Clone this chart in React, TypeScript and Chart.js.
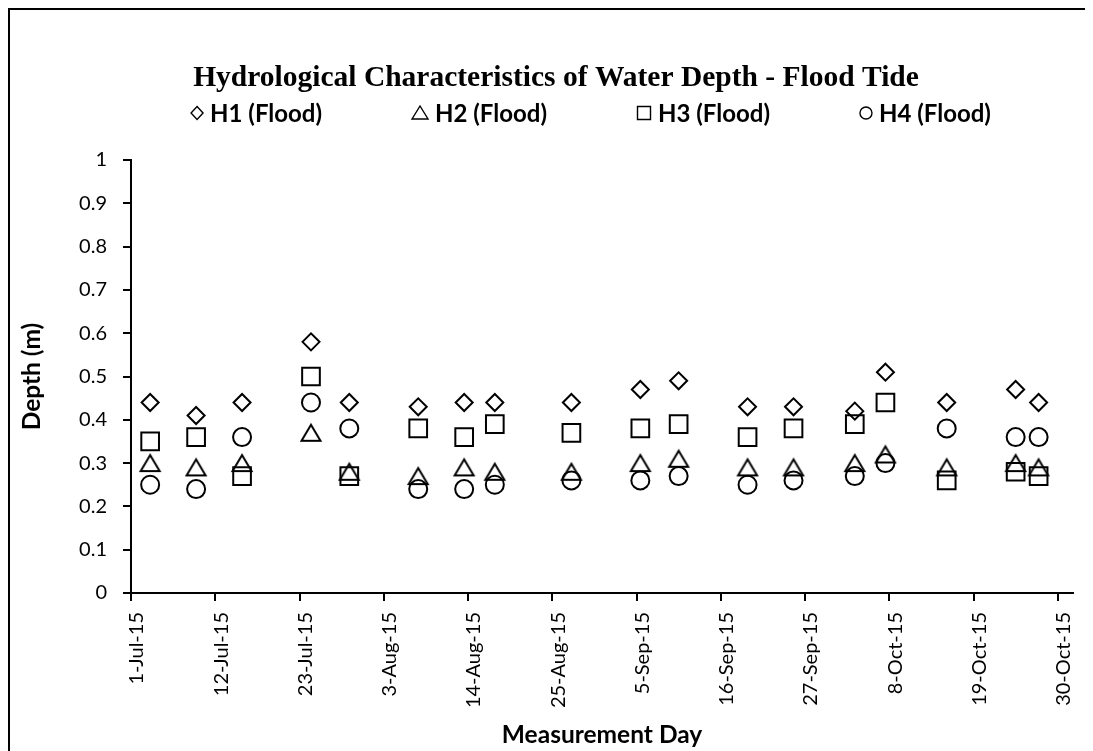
import React, { useEffect, useRef } from 'react';
import { Chart, registerables } from 'chart.js';

Chart.register(...registerables);

// ---------------- data ----------------
const chartTitle = 'Hydrological Characteristics of Water Depth - Flood Tide';
const xAxisTitle = 'Measurement Day';
const yAxisTitle = 'Depth (m)';

const seriesNames = ['H1 (Flood)', 'H2 (Flood)', 'H3 (Flood)', 'H4 (Flood)'];

const measurementDates = [
  '2015-07-03', '2015-07-09', '2015-07-15', '2015-07-24', '2015-07-29',
  '2015-08-07', '2015-08-13', '2015-08-17', '2015-08-27', '2015-09-05',
  '2015-09-10', '2015-09-19', '2015-09-25', '2015-10-03', '2015-10-07',
  '2015-10-15', '2015-10-24', '2015-10-27',
];

const h1Flood = [0.44, 0.41, 0.44, 0.58, 0.44, 0.43, 0.44, 0.44, 0.44, 0.47, 0.49, 0.43, 0.43, 0.42, 0.51, 0.44, 0.47, 0.44];
const h2Flood = [0.30, 0.29, 0.30, 0.37, 0.28, 0.27, 0.29, 0.28, 0.28, 0.30, 0.31, 0.29, 0.29, 0.30, 0.32, 0.29, 0.30, 0.29];
const h3Flood = [0.35, 0.36, 0.27, 0.50, 0.27, 0.38, 0.36, 0.39, 0.37, 0.38, 0.39, 0.36, 0.38, 0.39, 0.44, 0.26, 0.28, 0.27];
const h4Flood = [0.25, 0.24, 0.36, 0.44, 0.38, 0.24, 0.24, 0.25, 0.26, 0.26, 0.27, 0.25, 0.26, 0.27, 0.30, 0.38, 0.36, 0.36];

const xTickLabels = [
  '1-Jul-15', '12-Jul-15', '23-Jul-15', '3-Aug-15', '14-Aug-15', '25-Aug-15',
  '5-Sep-15', '16-Sep-15', '27-Sep-15', '8-Oct-15', '19-Oct-15', '30-Oct-15',
];
const xAxisStart = '2015-07-01';
const xAxisEnd = '2015-11-01';

const yMin = 0;
const yMax = 1;
const yStep = 0.1;

// ---------------- helpers ----------------
const DAY = 86400000;
const MONTHS: Record<string, number> = {
  Jan: 0, Feb: 1, Mar: 2, Apr: 3, May: 4, Jun: 5, Jul: 6, Aug: 7, Sep: 8, Oct: 9, Nov: 10, Dec: 11,
};
const isoToUtc = (s: string) => {
  const [y, m, d] = s.split('-').map(Number);
  return Date.UTC(y, m - 1, d);
};
const labelToUtc = (s: string) => {
  const [d, mon, yy] = s.split('-');
  return Date.UTC(2000 + Number(yy), MONTHS[mon], Number(d));
};
const originUtc = isoToUtc(xAxisStart);
const dayIndexIso = (s: string) => Math.round((isoToUtc(s) - originUtc) / DAY);
const dayIndexLabel = (s: string) => Math.round((labelToUtc(s) - originUtc) / DAY);

const xTickDays = xTickLabels.map(dayIndexLabel);
const xMaxDay = dayIndexIso(xAxisEnd);

// Excel date axis: each date occupies a one-day slot, markers sit in the slot centre.
const toPoints = (vals: number[]) =>
  measurementDates.map((d, i) => ({ x: dayIndexIso(d) + 0.5, y: vals[i] }));

function makeTriangle(): HTMLCanvasElement {
  const c = document.createElement('canvas');
  c.width = 30;
  c.height = 30;
  const g = c.getContext('2d')!;
  g.strokeStyle = '#000';
  g.lineWidth = 2;
  g.lineJoin = 'miter';
  g.beginPath();
  g.moveTo(15, 15 - 8);
  g.lineTo(15 + 9.5, 15 + 8);
  g.lineTo(15 - 9.5, 15 + 8);
  g.closePath();
  g.stroke();
  return c;
}

function drawLegendSymbol(ctx: CanvasRenderingContext2D, i: number, cx: number, cy: number) {
  ctx.save();
  ctx.strokeStyle = '#000';
  ctx.lineWidth = 1.4;
  ctx.beginPath();
  if (i === 0) {
    ctx.moveTo(cx, cy - 6.5);
    ctx.lineTo(cx + 6, cy);
    ctx.lineTo(cx, cy + 6.5);
    ctx.lineTo(cx - 6, cy);
    ctx.closePath();
  } else if (i === 1) {
    ctx.moveTo(cx, cy - 7);
    ctx.lineTo(cx + 8, cy + 6);
    ctx.lineTo(cx - 8, cy + 6);
    ctx.closePath();
  } else if (i === 2) {
    ctx.rect(cx - 6.5, cy - 6.5, 13, 13);
  } else {
    ctx.arc(cx, cy, 6, 0, Math.PI * 2);
  }
  ctx.stroke();
  ctx.restore();
}

const symbolWidths = [12, 16, 14, 12];

const overlayPlugin = {
  id: 'excelTitleLegend',
  afterDraw(chart: any) {
    const ctx: CanvasRenderingContext2D = chart.ctx;
    ctx.save();
    ctx.fillStyle = '#000';
    ctx.textBaseline = 'middle';
    ctx.textAlign = 'center';
    ctx.font = 'bold 29.5px "Liberation Serif", "Times New Roman", serif';
    ctx.fillText(chartTitle, 546, 68);

    ctx.font = 'bold 24px Lato, "Open Sans", sans-serif';
    ctx.textAlign = 'left';
    const symGap = 7;
    const itemGap = 90;
    const widths = seriesNames.map((n) => ctx.measureText(n).width);
    const total =
      widths.reduce((a, w, i) => a + symbolWidths[i] + symGap + w, 0) + itemGap * (seriesNames.length - 1);
    let x = 581 - total / 2;
    const y = 103;
    seriesNames.forEach((name, i) => {
      drawLegendSymbol(ctx, i, x + symbolWidths[i] / 2, y);
      ctx.fillText(name, x + symbolWidths[i] + symGap, y + 1);
      x += symbolWidths[i] + symGap + widths[i] + itemGap;
    });
    ctx.restore();
  },
};

export default function App() {
  const canvasRef = useRef<HTMLCanvasElement | null>(null);

  useEffect(() => {
    const prevOverflow = document.body.style.overflow;
    document.body.style.overflow = 'hidden';
    const canvas = canvasRef.current;
    if (!canvas) return;
    const triangle = makeTriangle();
    const tickFont = { family: 'Lato, "Open Sans", sans-serif', size: 20 };
    const titleFont = { family: 'Lato, "Open Sans", sans-serif', size: 24.5, weight: 'bold' as const };
    const common = {
      showLine: false,
      pointBackgroundColor: 'rgba(0,0,0,0)',
      backgroundColor: 'rgba(0,0,0,0)',
      pointBorderColor: '#000',
      borderColor: '#000',
      pointBorderWidth: 2,
    };

    const chart = new Chart(canvas, {
      type: 'scatter',
      data: {
        datasets: [
          { ...common, label: seriesNames[0], data: toPoints(h1Flood), pointStyle: 'rectRot', pointRadius: 8.5 },
          { ...common, label: seriesNames[1], data: toPoints(h2Flood), pointStyle: triangle as any, pointRadius: 10 },
          { ...common, label: seriesNames[2], data: toPoints(h3Flood), pointStyle: 'rect', pointRadius: 12.5 },
          { ...common, label: seriesNames[3], data: toPoints(h4Flood), pointStyle: 'circle', pointRadius: 9 },
        ],
      },
      options: {
        responsive: false,
        animation: false,
        events: [],
        layout: { padding: { top: 150, left: 0, right: 11, bottom: 0 } },
        plugins: {
          legend: { display: false },
          title: { display: false },
          tooltip: { enabled: false },
        },
        scales: {
          x: {
            type: 'linear',
            min: 0,
            max: xMaxDay,
            afterBuildTicks: (scale: any) => {
              scale.ticks = xTickDays.map((v) => ({ value: v }));
            },
            afterFit: (scale: any) => {
              scale.height = 158;
            },
            ticks: {
              autoSkip: false,
              minRotation: 90,
              maxRotation: 90,
              padding: 11,
              labelOffset: 6,
              color: '#000',
              font: tickFont,
              callback: (_v: any, i: number) => xTickLabels[i],
            },
            grid: { display: true, drawOnChartArea: false, drawTicks: true, tickLength: 8, color: '#000', lineWidth: 2 },
            border: { display: true, color: '#000', width: 2 },
            title: { display: true, text: xAxisTitle, color: '#000', font: titleFont, padding: { top: 0, bottom: 1 } },
          },
          y: {
            type: 'linear',
            min: yMin,
            max: yMax,
            afterFit: (scale: any) => {
              scale.width = 121;
            },
            ticks: {
              stepSize: yStep,
              padding: 16,
              color: '#000',
              font: tickFont,
              callback: (v: any) => String(Math.round(Number(v) * 10) / 10),
            },
            grid: { display: true, drawOnChartArea: false, drawTicks: true, tickLength: 8, color: '#000', lineWidth: 2 },
            border: { display: true, color: '#000', width: 2 },
            title: { display: true, text: yAxisTitle, color: '#000', font: titleFont, padding: { top: 7, bottom: 0 } },
          },
        },
      },
      plugins: [overlayPlugin],
    } as any);

    return () => {
      chart.destroy();
      document.body.style.overflow = prevOverflow;
    };
  }, []);

  return (
    <div
      style={{
        width: 1085,
        height: 743,
        boxSizing: 'border-box',
        borderTop: '2px solid #000',
        borderLeft: '2px solid #000',
        background: '#fff',
      }}
    >
      <canvas ref={canvasRef} width={1083} height={741} style={{ display: 'block', width: 1083, height: 741 }} />
    </div>
  );
}
